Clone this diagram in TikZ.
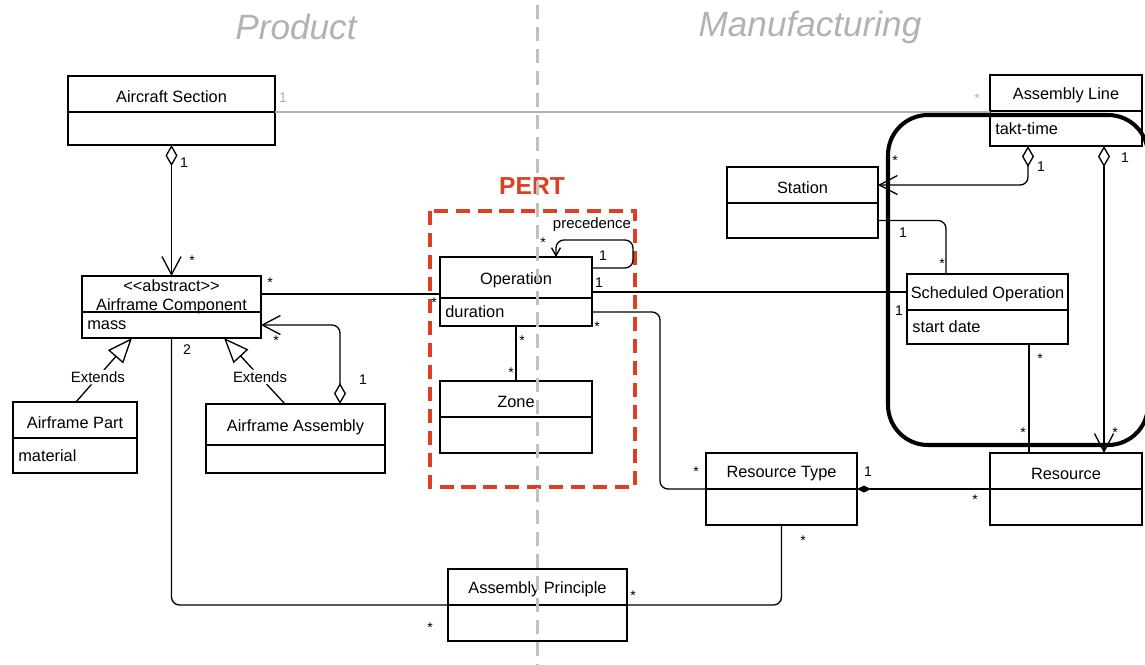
\documentclass[tikz,border=0pt]{standalone}
\usepackage{fontspec}
\setmainfont{Liberation Sans}
\usetikzlibrary{arrows.meta,calc}
\definecolor{pertred}{RGB}{224,62,34}
\definecolor{titlegray}{RGB}{178,178,178}
\definecolor{splitgray}{RGB}{192,192,192}

% class box: name, left, top, width, header height, body height, title, attribute
\newcommand{\umlclass}[8]{%
  \node[clsbox,anchor=north west,minimum width=#4*0.02cm,minimum height=#5*0.02cm] (#1) at (#2,#3) {};
  \node[clsbox,anchor=north west,minimum width=#4*0.02cm,minimum height=#6*0.02cm] (#1b) at (#1.south west) {};
  \node[attr,align=center] (#1h) at ($(#1.center)+(0,2.5)$) {#7};
  \node[attr,anchor=west] (#1t) at ($(#1b.west)+(5,0)$) {#8};
}

\begin{document}
\begin{tikzpicture}[x=0.02cm,y=-0.02cm,
  clsbox/.style={draw,line width=0.75pt,inner sep=1pt,outer sep=0pt},
  attr/.style={inner sep=0pt,font=\fontsize{9.3}{10.8}\selectfont},
  conn/.style={line width=0.75pt,rounded corners=0.16cm},
  aggr/.style={{Diamond[open,length=0.42cm,width=0.24cm]}-{Straight Barb[length=0.36cm,width=0.38cm]}},
  gen/.style={-{Triangle[open,length=0.5cm,width=0.4cm]}},
  mult/.style={inner sep=0pt,font=\fontsize{8}{9}\selectfont},
  ext/.style={fill=white,inner sep=1pt,font=\fontsize{8.5}{10}\selectfont},
  title/.style={text=titlegray,font=\fontsize{20}{24}\selectfont\itshape}]
\useasboundingbox (0,0) rectangle (1145,664);

\node[title] (tprod) at (296,27) {Product};
\node[title] (tmanu) at (810,27) {Manufacturing};

% classes
\umlclass{asec}{68}{76}{207}{36}{33}{Aircraft Section}{}
\umlclass{aline}{990}{75}{152}{36}{35}{Assembly Line}{takt-time}
\umlclass{stat}{727}{167}{151}{36}{35}{Station}{}
\umlclass{acomp}{82}{276}{179}{36}{26}{<{}<abstract>{}>\\Airframe Component}{mass}
\umlclass{apart}{13}{402}{124}{36}{35}{Airframe Part}{material}
\umlclass{aasm}{206}{404}{179}{41}{28}{Airframe Assembly}{}
\umlclass{oper}{440}{257}{152}{41}{28}{Operation}{duration}
\umlclass{zone}{440}{381}{152}{36}{36}{Zone}{}
\umlclass{sched}{907}{274}{161}{36}{34}{Scheduled Operation}{start date}
\umlclass{rtype}{706}{453}{151}{36}{36}{Resource Type}{}
\umlclass{res}{990}{453}{152}{36}{36}{Resource}{}
\umlclass{aprin}{448}{569}{179}{36}{36}{Assembly Principle}{}

% PERT frame
\draw[pertred,line width=2.2pt,dash pattern=on 8pt off 4.5pt] (430,211) rectangle (635,487);
\node[text=pertred,font=\bfseries\fontsize{14}{16}\selectfont] (pert) at (532,186) {PERT};

% thick frame round the line
\begin{scope}
\clip (0,0) rectangle (1145,664);
\draw[line width=2.3pt,rounded corners=0.8cm] (888,115) rectangle (1148,445);
\end{scope}

% section -- line
\draw[gray!60,line width=0.75pt] (asecb.north east) -- (asecb.north east -| alineb.west);
\node[mult,text=gray!60] (m1) at (283,98) {1};
\node[mult,text=gray!60] (m2) at (977,99) {*};

% section -- component
\draw[conn,aggr] (asecb.south) -- (acomp.north);
\node[mult] (m3) at (184,163) {1};
\node[mult] (m4) at (192,261) {*};

% component -- operation
\draw[conn] (acomp.east) -- (acomp.east -| oper.west);
\node[mult] (m5) at (270,283) {*};
\node[mult] (m6) at (434,303) {*};

% extends
\draw[conn,gen] ($(apart.north west)+(63,0)$) -- node[pos=0.39,ext] (ext1) {Extends} ($(acompb.south west)+(50,0)$);
\draw[conn,gen] ($(aasm.north west)+(79,0)$) -- node[pos=0.41,ext] (ext2) {Extends} ($(acompb.south west)+(142,0)$);

% assembly -- component
\draw[conn,aggr] ($(aasm.north west)+(134,0)$) |- (acompb.east);
\node[mult] (m7) at (363,380) {1};
\node[mult] (m8) at (276,341) {*};

% component -- principle -- resource type
\draw[conn] (acompb.south) |- (aprin.south west);
\node[mult] (m9) at (187,350) {2};
\node[mult] (m10) at (430,628) {*};
\draw[conn] (aprin.south east) -| (rtypeb.south);
\node[mult] (m11) at (633,596) {*};
\node[mult] (m12) at (803,541) {*};

% precedence
\draw[conn,-{Straight Barb[length=0.16cm,width=0.18cm]}] ($(oper.north east)+(0,11)$) -| ($(oper.north east)+(41,-17)$) -| ($(oper.north west)+(116,0)$);
\node[ext,fill=none] (prec) at (592,225) {precedence};
\node[mult] (m13) at (603,256) {1};
\node[mult] (m14) at (543,243) {*};

% operation -- scheduled operation
\draw[conn] (sched.west -| oper.east) -- (sched.west);
\node[mult] (m15) at (599,283) {1};
\node[mult] (m16) at (899,311) {1};

% operation -- zone
\draw[conn] (operb.south) -- (zone.north);
\node[mult] (m17) at (522,341) {*};
\node[mult] (m18) at (511,373) {*};

% operation -- resource type
\draw[conn] (operb.east) -| ($(rtype.south west)+(-46,0)$) -- (rtype.south west);
\node[mult] (m19) at (597,327) {*};
\node[mult] (m20) at (696,472) {*};

% line -- station
\draw[conn,aggr] ($(alineb.south west)+(38,0)$) |- (stat.east);
\node[mult] (m21) at (1041,167) {1};
\node[mult] (m22) at (895,161) {*};

% line -- resource
\draw[conn,aggr] ($(alineb.south west)+(114,0)$) -- ($(res.north west)+(114,0)$);
\node[mult] (m23) at (1125,158) {1};
\node[mult] (m24) at (1115,433) {*};

% station -- scheduled operation
\draw[conn] (statb.east) -| ($(sched.north west)+(39,0)$);
\node[mult] (m25) at (903,233) {1};
\node[mult] (m26) at (942,264) {*};

% scheduled operation -- resource
\draw[conn] ($(schedb.south west)+(122,0)$) -- ($(res.north west)+(39,0)$);
\node[mult] (m27) at (1040,359) {*};
\node[mult] (m28) at (1023,433) {*};

% resource type -- resource
\draw[conn,{Diamond[length=0.28cm,width=0.14cm]}-] (rtype.south east) -- (res.south west);
\node[mult] (m29) at (868,472) {1};
\node[mult] (m30) at (975,500) {*};

% product | manufacturing
\draw[splitgray,line width=1.7pt,dash pattern=on 8pt off 4.5pt] (537,5) -- (537,664);
\end{tikzpicture}
\end{document}
